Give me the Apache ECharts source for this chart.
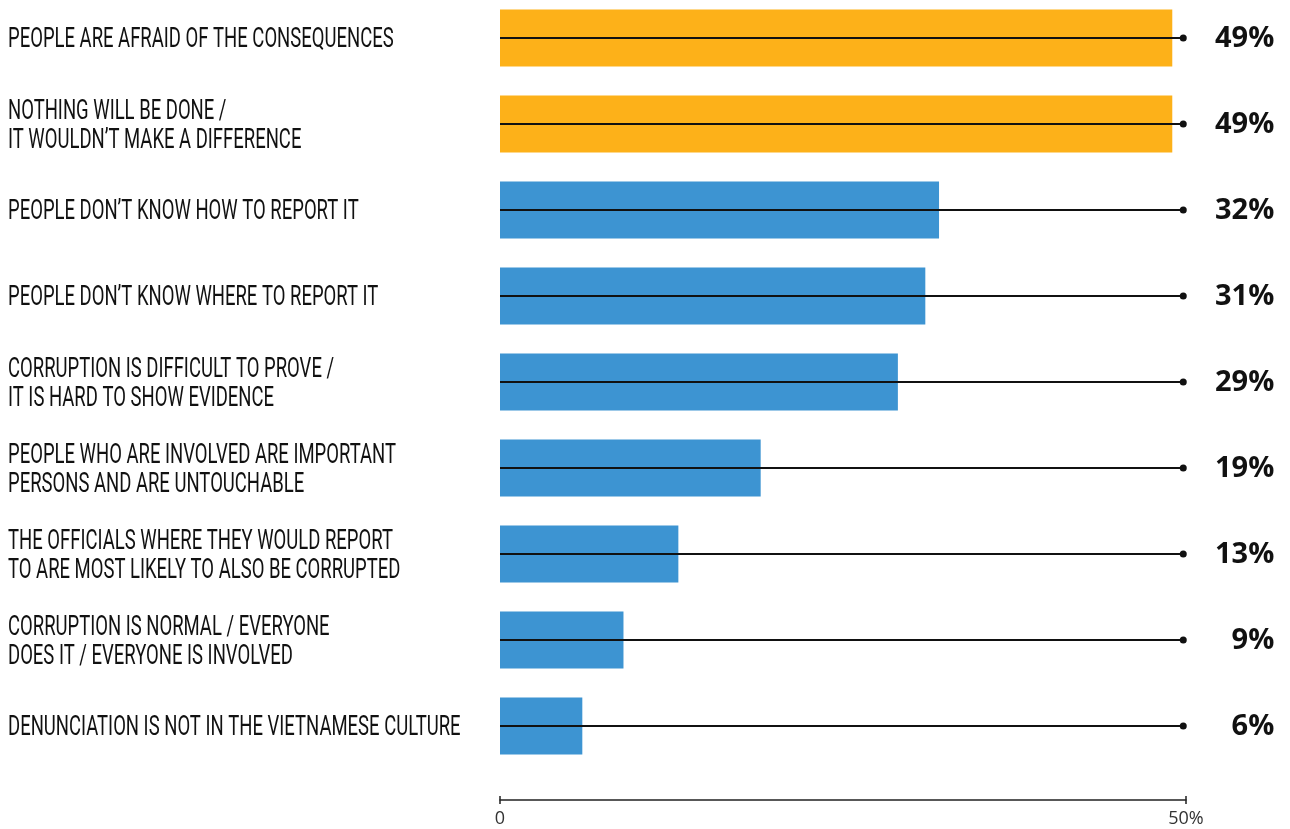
<!DOCTYPE html>
<html>
<head>
<meta charset="utf-8">
<script src="https://cdn.jsdelivr.net/npm/echarts@6/dist/echarts.min.js"></script>
<style>
  html, body { margin: 0; padding: 0; background: #fff; }
  #chart { width: 1290px; height: 829px; }
</style>
</head>
<body>
<div id="chart"></div>
<script>
// Reasons people do not report corruption (% of respondents)
const reasons = [
  'PEOPLE ARE AFRAID OF THE CONSEQUENCES',
  'NOTHING WILL BE DONE /\nIT WOULDN\u2019T MAKE A DIFFERENCE',
  'PEOPLE DON\u2019T KNOW HOW TO REPORT IT',
  'PEOPLE DON\u2019T KNOW WHERE TO REPORT IT',
  'CORRUPTION IS DIFFICULT TO PROVE /\nIT IS HARD TO SHOW EVIDENCE',
  'PEOPLE WHO ARE INVOLVED ARE IMPORTANT\nPERSONS AND ARE UNTOUCHABLE',
  'THE OFFICIALS WHERE THEY WOULD REPORT\nTO ARE MOST LIKELY TO ALSO BE CORRUPTED',
  'CORRUPTION IS NORMAL / EVERYONE\nDOES IT / EVERYONE IS INVOLVED',
  'DENUNCIATION IS NOT IN THE VIETNAMESE CULTURE'
];
const shares = [49, 49, 32, 31, 29, 19, 13, 9, 6];
const axisTicks = [0, 50];

// The two leading reasons are highlighted
const highlightCount = 2;
const ORANGE = '#FDB119';
const BLUE = '#3D94D2';
const GUIDE_END = 49.8;   // leader lines run out toward the value column

const chart = echarts.init(document.getElementById('chart'), null, { renderer: 'canvas' });

const baseX = {
  type: 'value',
  min: axisTicks[0],
  max: axisTicks[axisTicks.length - 1],
  interval: axisTicks[1] - axisTicks[0],
  position: 'bottom',
  offset: 31,
  splitLine: { show: false }
};

const option = {
  animation: false,
  backgroundColor: '#ffffff',
  grid: { left: 500, right: 104, top: -5, bottom: 60, containLabel: false, outerBoundsMode: 'none' },
  xAxis: [
    Object.assign({}, baseX, {
      axisLine: { show: true, lineStyle: { color: '#222', width: 1.5 } },
      axisTick: { show: true, length: 4, lineStyle: { color: '#222', width: 1.5 } },
      axisLabel: {
        color: '#333',
        fontFamily: 'Open Sans',
        fontSize: 18,
        margin: 10,
        formatter: v => v === 0 ? '0' : v + '%'
      }
    }),
    // upper half of the end ticks, so they cross the axis line
    Object.assign({}, baseX, {
      axisLine: { show: false },
      axisTick: { show: true, inside: true, length: 4, lineStyle: { color: '#222', width: 1.5 } },
      axisLabel: { show: false }
    })
  ],
  yAxis: {
    type: 'category',
    data: reasons,
    inverse: true,
    axisLine: { show: false },
    axisTick: { show: false },
    axisLabel: { show: false }
  },
  series: [
    {
      type: 'bar',
      data: shares.map((v, i) => ({
        value: v,
        itemStyle: { color: i < highlightCount ? ORANGE : BLUE }
      })),
      barWidth: 57,
      z: 2
    },
    {
      type: 'custom',
      z: 5,
      data: shares.map((v, i) => [v, i]),
      encode: { x: 0, y: 1 },
      renderItem: function (params, api) {
        const row = api.value(1);
        const start = api.coord([0, row]);
        const end = api.coord([GUIDE_END, row]);
        return {
          type: 'group',
          children: [
            {
              // condensed category caption on the left
              type: 'text',
              x: start[0] - 492,
              y: start[1] + 2,
              scaleX: 0.66,
              style: {
                text: reasons[row],
                align: 'left',
                verticalAlign: 'middle',
                fill: '#111',
                fontFamily: 'Roboto',
                fontSize: 28,
                lineHeight: 29
              }
            },
            {
              type: 'line',
              shape: { x1: start[0], y1: start[1], x2: end[0], y2: end[1] },
              style: { stroke: '#111', lineWidth: 2 }
            },
            {
              type: 'circle',
              shape: { cx: end[0], cy: end[1], r: 3.5 },
              style: { fill: '#111' }
            },
            {
              type: 'text',
              x: end[0] + 91,
              y: end[1] + 1,
              style: {
                text: api.value(0) + '%',
                align: 'right',
                verticalAlign: 'middle',
                fill: '#111',
                fontFamily: 'Open Sans',
                fontWeight: 'bold',
                fontSize: 29
              }
            }
          ]
        };
      }
    }
  ]
};

chart.setOption(option);
</script>
</body>
</html>
